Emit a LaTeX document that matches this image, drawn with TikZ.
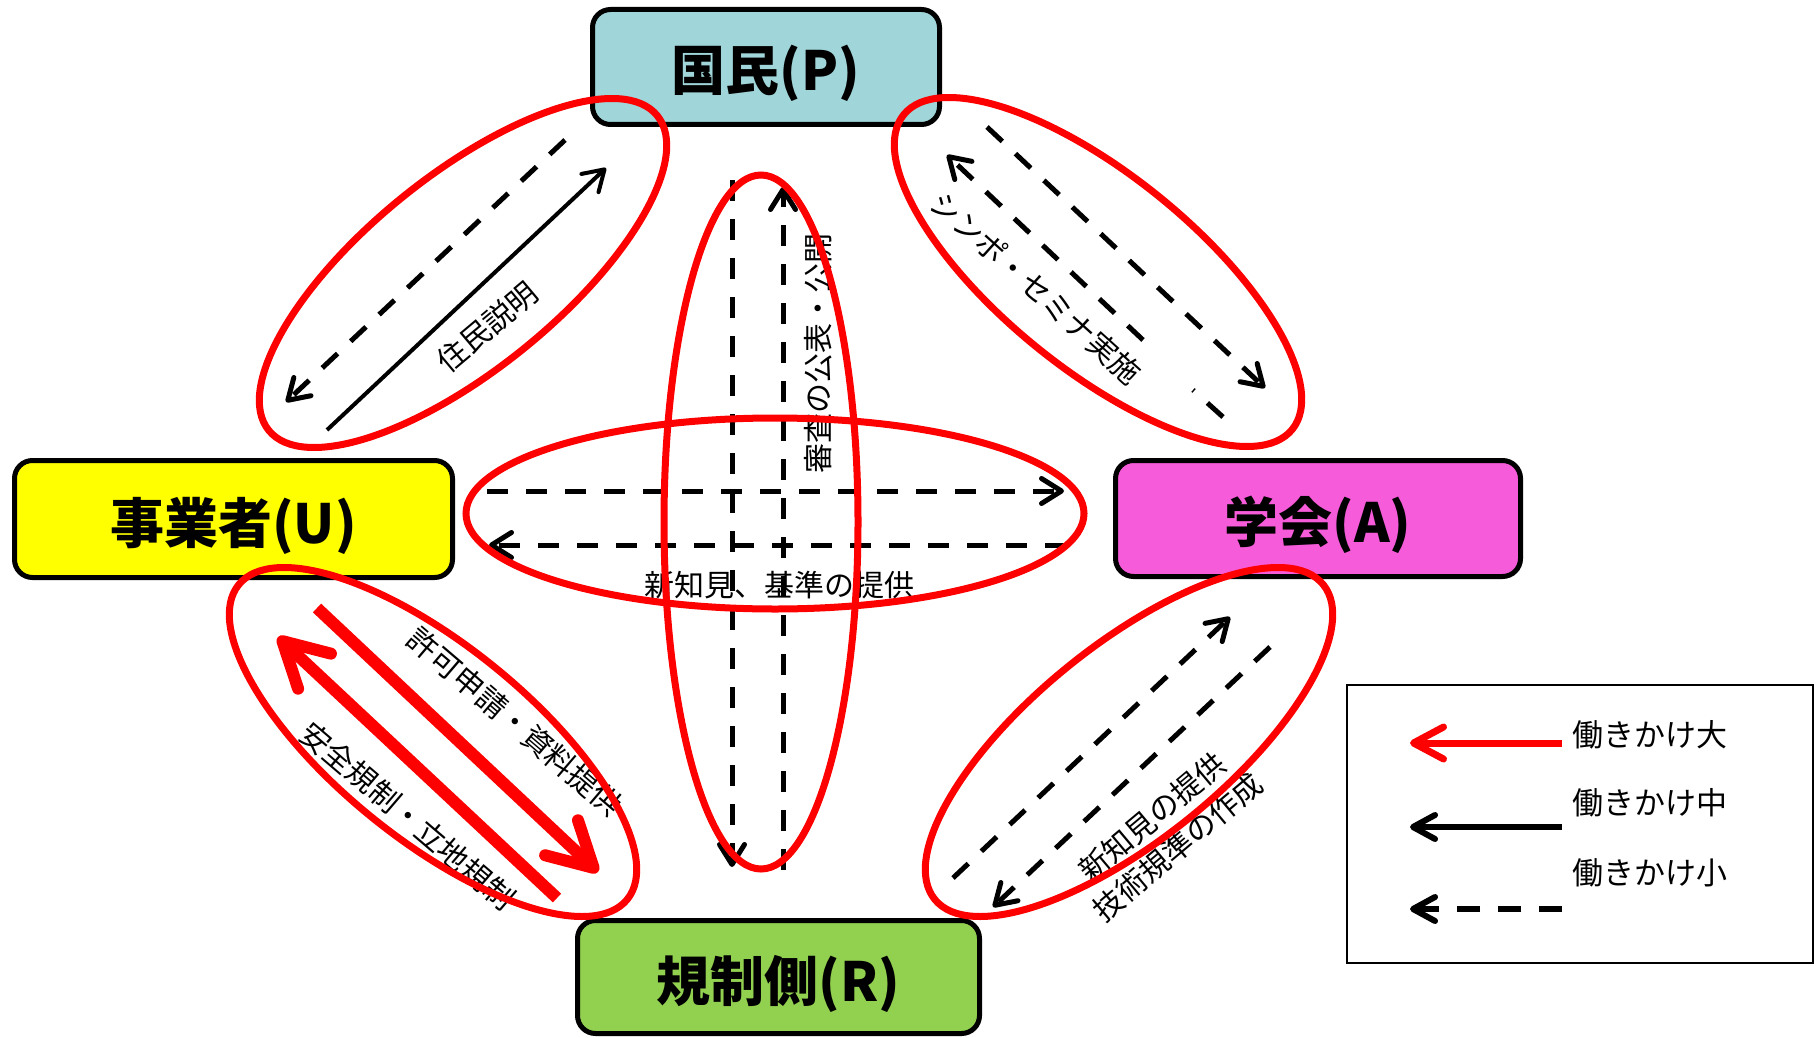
\documentclass[tikz,border=0pt]{standalone}
\usepackage{fontspec}
\setmainfont{Noto Sans CJK JP}
\usetikzlibrary{arrows.meta,shapes.geometric}
\definecolor{pfill}{RGB}{160,213,217}
\definecolor{ufill}{RGB}{255,255,0}
\definecolor{afill}{RGB}{246,91,218}
\definecolor{rfill}{RGB}{146,208,80}
\definecolor{ringred}{RGB}{255,0,0}
\tikzset{
  actor/.style={draw=black, line width=5pt, rounded corners=18pt, inner sep=0pt,
    text height=54pt, text depth=6pt,
    font=\fontsize{54}{60}\selectfont\bfseries},
  ring/.style={ellipse, draw=ringred, line width=7pt, inner sep=0pt, outer sep=0pt},
  lbl/.style={font=\fontsize{30}{39}\selectfont, inner sep=0pt, align=center},
  barb/.style={-{Straight Barb[length=20pt,width=25pt,round]}},
  small/.style={black, line width=5pt, dash pattern=on 21pt off 18pt, barb},
  smallplain/.style={black, line width=5pt, dash pattern=on 21pt off 18pt},
  medium/.style={black, line width=4pt, barb},
  large/.style={ringred, line width=12pt, -{Straight Barb[length=44pt,width=48pt,round]}},
}
\begin{document}
\begin{tikzpicture}[x=1pt,y=-1pt]
\useasboundingbox (0,0) rectangle (1817,1038);
% actor boxes
\node[actor, fill=pfill, minimum width=347pt, minimum height=115pt] (P) at (766,67) {国民(P)};
\node[actor, fill=ufill, minimum width=438pt, minimum height=117pt] (U) at (233.5,519) {事業者(U)};
\node[actor, fill=afill, minimum width=405pt, minimum height=116pt] (A) at (1318,518.5) {学会(A)};
\node[actor, fill=rfill, minimum width=402pt, minimum height=113pt] (R) at (778.5,977) {規制側(R)};
% arrow end points
\coordinate (tl1s) at (565,140); \coordinate (tl1e) at (286,402);
\coordinate (tl2s) at (327,430); \coordinate (tl2e) at (606,168);
\coordinate (tr1s) at (987,127); \coordinate (tr1e) at (1265,388);
\coordinate (tr2s) at (1143,340); \coordinate (tr2e) at (947,155);
\coordinate (tr3s) at (1223,417); \coordinate (tr3e) at (1193,390);
\coordinate (bl1s) at (317,608); \coordinate (bl1e) at (598,872);
\coordinate (bl2s) at (557,898); \coordinate (bl2e) at (278,637);
\coordinate (br1s) at (953,878); \coordinate (br1e) at (1230,617);
\coordinate (br2s) at (1270,647); \coordinate (br2e) at (993,907);
\coordinate (h1s) at (487,491); \coordinate (h1e) at (1064,491);
\coordinate (h2s) at (1066,545); \coordinate (h2e) at (489,545);
\coordinate (v1s) at (732,180); \coordinate (v1e) at (732,867);
\coordinate (v2s) at (783,870); \coordinate (v2e) at (783,187);
% arrows
\draw[small] (tl1s) -- (tl1e);
\draw[medium] (tl2s) -- (tl2e);
\draw[small] (tr1s) -- (tr1e);
\draw[small] (tr2s) -- (tr2e);
\draw[smallplain] (tr3s) -- (tr3e);
\draw[large] (bl1s) -- (bl1e);
\draw[large] (bl2s) -- (bl2e);
\draw[small] (br1s) -- (br1e);
\draw[small] (br2s) -- (br2e);
\draw[small] (h1s) -- (h1e);
\draw[small] (h2s) -- (h2e);
\draw[small] (v1s) -- (v1e);
\draw[small] (v2s) -- (v2e);
% labels
\node[lbl, rotate=40] (t1) at (487,327) {住民説明};
\node[lbl, rotate=-42] (t2) at (1036,288) {シンポ・セミナ実施};
\node[lbl, rotate=-40.5] (t3) at (515,722) {許可申請・資料提供};
\node[lbl, rotate=-40.5] (t4) at (408,816) {安全規制・立地規制};
\node[lbl, rotate=40] (t5) at (1165,832) {新知見の提供\\技術規準の作成};
\node[lbl, rotate=90] (t6) at (818,353) {審査の公表・公開};
\node[lbl] (t7) at (779,585) {新知見、基準の提供};
% rings
\node[ring, rotate=39, minimum width=500pt, minimum height=194pt] (e1) at (463,273) {};
\node[ring, rotate=-39, minimum width=500pt, minimum height=194pt] (e2) at (1098,272) {};
\node[ring, rotate=-39, minimum width=500pt, minimum height=194pt] (e3) at (433,742) {};
\node[ring, rotate=39, minimum width=500pt, minimum height=194pt] (e4) at (1129,742) {};
\node[ring, minimum width=194pt, minimum height=694pt] (e5) at (761,522) {};
\node[ring, minimum width=618pt, minimum height=191pt] (e6) at (775,513.5) {};
% legend
\node[draw=black, line width=2.5pt, minimum width=466pt, minimum height=278pt, inner sep=0pt] (leg) at (1580,824) {};
\coordinate (lg1s) at (1562,743); \coordinate (lg1e) at (1410,743);
\coordinate (lg2s) at (1562,827); \coordinate (lg2e) at (1410,827);
\coordinate (lg3s) at (1562,909); \coordinate (lg3e) at (1410,909);
\draw[ringred, line width=7pt, -{Straight Barb[length=30pt,width=32pt,round]}] (lg1s) -- (lg1e);
\draw[black, line width=6pt, -{Straight Barb[length=22pt,width=24pt,round]}] (lg2s) -- (lg2e);
\draw[black, line width=6pt, dash pattern=on 23pt off 18pt, -{Straight Barb[length=22pt,width=24pt,round]}] (lg3s) -- (lg3e);
\node[lbl, anchor=west, font=\fontsize{31}{39}\selectfont] (lt1) at (1572,735) {働きかけ大};
\node[lbl, anchor=west, font=\fontsize{31}{39}\selectfont] (lt2) at (1572,803) {働きかけ中};
\node[lbl, anchor=west, font=\fontsize{31}{39}\selectfont] (lt3) at (1572,873) {働きかけ小};
\end{tikzpicture}
\end{document}
